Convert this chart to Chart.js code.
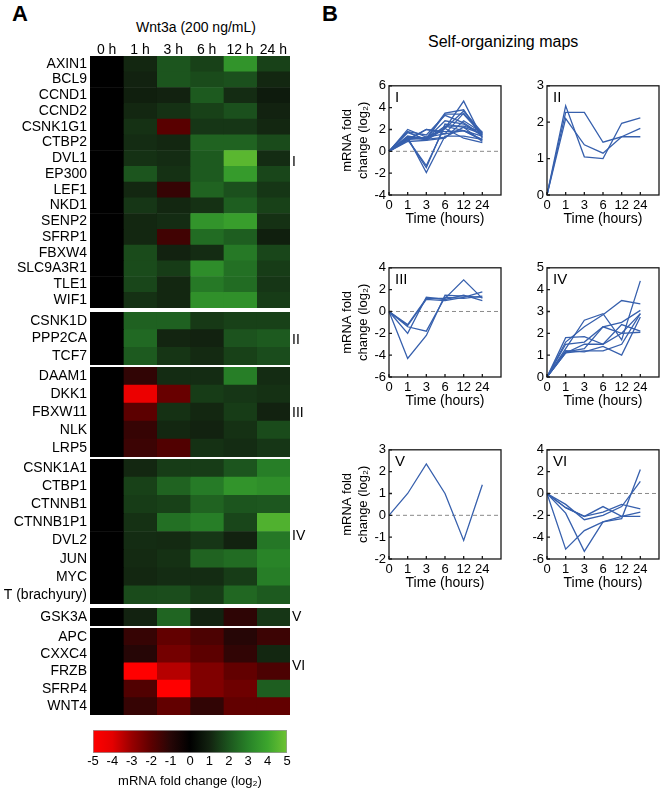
<!DOCTYPE html>
<html>
<head>
<meta charset="utf-8">
<script src="https://cdn.jsdelivr.net/npm/chart.js@4/dist/chart.umd.min.js"></script>
<style>
  body { margin: 0; background: #fff; width: 662px; height: 793px; overflow: hidden; position: relative;
         font-family: "Liberation Sans", Arial, Helvetica, sans-serif; color: #000; }
  .lbl { position: absolute; white-space: nowrap; line-height: 1; }
</style>
</head>
<body>
<script>
// time points
var hours = ['0', '1', '3', '6', '12', '24'];
var hourHeads = ['0 h', '1 h', '3 h', '6 h', '12 h', '24 h'];

// cluster I
var genesI = ['AXIN1', 'BCL9', 'CCND1', 'CCND2', 'CSNK1G1', 'CTBP2', 'DVL1', 'EP300', 'LEF1', 'NKD1',
              'SENP2', 'SFRP1', 'FBXW4', 'SLC9A3R1', 'TLE1', 'WIF1'];
var valuesI = [
    [0, 1.1, 2.0, 1.6, 3.5, 1.6],
    [0, 1.0, 2.0, 1.8, 1.9, 1.1],
    [0, 0.9, 1.0, 2.1, 1.2, 0.8],
    [0, 1.1, 1.3, 1.6, 1.9, 1.0],
    [0, 1.3, -1.95, 1.4, 1.4, 1.1],
    [0, 1.2, 1.1, 2.3, 2.3, 1.8],
    [0, 1.3, 1.2, 2.1, 4.6, 1.2],
    [0, 2.0, 1.3, 2.1, 3.7, 1.7],
    [0, 1.1, -1.3, 2.3, 1.9, 1.4],
    [0, 1.4, 1.1, 1.3, 2.2, 1.6],
    [0, 1.1, 1.2, 3.5, 3.8, 1.3],
    [0, 1.1, -1.5, 2.5, 2.2, 0.9],
    [0, 1.8, 1.0, 1.2, 2.8, 1.7],
    [0, 1.8, 1.5, 3.3, 2.6, 1.5],
    [0, 1.7, 1.1, 2.8, 2.5, 1.4],
    [0, 1.3, 1.1, 3.4, 3.4, 1.5]
];

// cluster II
var genesII = ['CSNK1D', 'PPP2CA', 'TCF7'];
var valuesII = [
    [0, 2.27, 2.27, 1.45, 1.6, 1.6],
    [0, 2.45, 1.05, 1.0, 1.97, 2.12],
    [0, 2.1, 1.38, 1.15, 1.6, 1.83]
];

// cluster III
var genesIII = ['DAAM1', 'DKK1', 'FBXW11', 'NLK', 'LRP5'];
var valuesIII = [
    [0, -1.2, 1.2, 1.2, 2.9, 1.2],
    [0, -4.3, -2.2, 1.5, 1.4, 1.3],
    [0, -2.0, 1.3, 1.1, 1.5, 1.0],
    [0, -1.3, 1.1, 1.0, 1.3, 1.8],
    [0, -1.4, -1.8, 1.3, 1.2, 1.4]
];

// cluster IV
var genesIV = ['CSNK1A1', 'CTBP1', 'CTNNB1', 'CTNNB1P1', 'DVL2', 'JUN', 'MYC', 'T (brachyury)'];
var valuesIV = [
    [0, 1.1, 1.5, 1.5, 2.0, 2.9],
    [0, 1.6, 2.3, 2.85, 3.5, 3.35],
    [0, 1.5, 1.6, 2.3, 2.0, 2.05],
    [0, 1.3, 2.6, 2.9, 1.7, 4.4],
    [0, 1.2, 1.15, 1.4, 1.0, 2.75],
    [0, 1.15, 1.3, 2.3, 2.5, 3.05],
    [0, 1.1, 1.2, 1.2, 1.5, 2.9],
    [0, 1.8, 1.85, 1.5, 2.4, 2.1]
];

// cluster V
var genesV = ['GSK3A'];
var valuesV = [
    [0, 1.0, 2.35, 1.0, -1.15, 1.4]
];

// cluster VI
var genesVI = ['APC', 'CXXC4', 'FRZB', 'SFRP4', 'WNT4'];
var valuesVI = [
    [0, -1.3, -2.1, -1.7, -1.0, -1.4],
    [0, -1.0, -2.4, -2.0, -1.2, 1.1],
    [0, -5.1, -3.4, -2.6, -2.1, -1.7],
    [0, -1.8, -5.3, -2.6, -2.3, 2.2],
    [0, -1.3, -2.1, -1.2, -2.1, -2.1]
];

var FONT = '"Liberation Sans", Arial, Helvetica, sans-serif';
var LINE = '#3760ad';

Chart.defaults.font.family = FONT;
Chart.defaults.color = '#000';
Chart.defaults.animation = false;
Chart.defaults.plugins.legend.display = false;
Chart.defaults.plugins.tooltip.enabled = false;

// colour scale: red (-5) .. black (0) .. green (+5)
var posStops = [[0, [0, 0, 0]], [1, [18, 34, 16]], [2, [28, 85, 30]], [3, [40, 130, 40]], [4, [60, 165, 45]], [5, [110, 195, 50]]];
var negStops = [[0, [0, 0, 0]], [1, [38, 6, 6]], [2, [92, 0, 0]], [3, [152, 0, 0]], [4, [228, 0, 0]], [5, [255, 0, 0]]];

function heatColor(v) {
    var s = v >= 0 ? posStops : negStops;
    var a = Math.min(Math.abs(v), 5);
    var i = 0;
    while (i < s.length - 2 && a > s[i + 1][0]) i++;
    var c0 = s[i][1], c1 = s[i + 1][1];
    var f = (a - s[i][0]) / (s[i + 1][0] - s[i][0]);
    return 'rgb(' + [0, 1, 2].map(function (k) { return Math.round(c0[k] + (c1[k] - c0[k]) * f); }).join(',') + ')';
}

function place(left, top, w, h) {
    var c = document.createElement('canvas');
    c.width = w;
    c.height = h;
    c.style.position = 'absolute';
    c.style.left = left + 'px';
    c.style.top = top + 'px';
    document.body.appendChild(c);
    return c;
}

function label(text, x, y, css, center) {
    var d = document.createElement('div');
    d.className = 'lbl';
    d.textContent = text;
    d.style.cssText += css;
    d.style.left = x + 'px';
    d.style.top = y + 'px';
    d.style.transform = center ? 'translate(-50%, -50%)' : 'translate(0, -50%)';
    document.body.appendChild(d);
}

// heatmap block for one cluster
function heatBlock(genes, vals, top, height, withHead) {
    var head = withHead ? 20 : 0;
    var cv = place(0, top - head, 300, height + head);
    return new Chart(cv, {
        type: 'bar',
        data: {
            labels: genes,
            datasets: hours.map(function (h, t) {
                return {
                    data: genes.map(function () { return [t, t + 1]; }),
                    backgroundColor: vals.map(function (row) { return heatColor(row[t]); }),
                    borderWidth: 0,
                    barPercentage: 1,
                    categoryPercentage: 1,
                    grouped: false
                };
            })
        },
        options: {
            responsive: false,
            indexAxis: 'y',
            layout: { padding: { left: 0, right: 10, top: 0, bottom: 0 } },
            scales: {
                x: {
                    type: 'linear', min: 0, max: 6, position: 'top', display: withHead,
                    grid: { display: false, drawTicks: false },
                    border: { display: false },
                    afterBuildTicks: function (s) {
                        s.ticks = hourHeads.map(function (hh, i) { return { value: i + 0.5 }; });
                    },
                    ticks: {
                        font: { size: 14 }, padding: -3, maxRotation: 0, autoSkip: false,
                        callback: function (v, i) { return hourHeads[i]; }
                    },
                    afterFit: function (s) { s.height = head; s.paddingLeft = 0; s.paddingRight = 0; }
                },
                y: {
                    grid: { display: false, drawTicks: false },
                    border: { display: false },
                    ticks: { font: { size: 14 }, padding: 3, autoSkip: false },
                    afterFit: function (s) { s.width = 90; s.paddingTop = 0; s.paddingBottom = 0; }
                }
            }
        }
    });
}

heatBlock(genesI, valuesI, 56, 252, true);
heatBlock(genesII, valuesII, 312, 53, false);
heatBlock(genesIII, valuesIII, 367, 90, false);
heatBlock(genesIV, valuesIV, 459, 145, false);
heatBlock(genesV, valuesV, 608, 18, false);
heatBlock(genesVI, valuesVI, 628, 87, false);

// colour bar
new Chart(place(80, 722, 220, 71), {
    type: 'bar',
    data: {
        labels: [''],
        datasets: [{
            data: [[-5, 5]],
            backgroundColor: function (c) {
                var a = c.chart.chartArea;
                if (!a) return '#000';
                var g = c.chart.ctx.createLinearGradient(a.left, 0, a.right, 0);
                for (var v = -5; v <= 5; v += 0.5) g.addColorStop((v + 5) / 10, heatColor(v));
                return g;
            },
            borderColor: '#9a9a9a',
            borderWidth: 1,
            borderSkipped: false,
            barPercentage: 1,
            categoryPercentage: 1
        }]
    },
    options: {
        responsive: false,
        indexAxis: 'y',
        layout: { padding: { left: 13, right: 13, top: 8, bottom: 0 } },
        scales: {
            x: {
                type: 'linear', min: -5, max: 5,
                grid: { display: false, drawTicks: false },
                border: { display: false },
                ticks: { stepSize: 1, font: { size: 13 }, padding: 1 },
                title: { display: true, text: 'mRNA fold change (log₂)', font: { size: 13 }, padding: { top: 0, bottom: 4 } },
                afterFit: function (s) { s.height = 40; }
            },
            y: { display: false }
        }
    }
});

// box, inner ticks, zero line and cluster numeral for the small line plots
var framePlugin = {
    id: 'frame',
    beforeDatasetsDraw: function (chart, args, opts) {
        if (!opts.zero) return;
        var ctx = chart.ctx, a = chart.chartArea;
        var py = chart.scales.y.getPixelForValue(0);
        ctx.save();
        ctx.strokeStyle = '#8a8a8a';
        ctx.lineWidth = 1;
        ctx.setLineDash([4, 3]);
        ctx.beginPath();
        ctx.moveTo(a.left, py);
        ctx.lineTo(a.right, py);
        ctx.stroke();
        ctx.restore();
    },
    afterDatasetsDraw: function (chart, args, opts) {
        var ctx = chart.ctx, a = chart.chartArea, x = chart.scales.x, y = chart.scales.y;
        ctx.save();
        ctx.strokeStyle = '#1a1a1a';
        ctx.lineWidth = 1.3;
        ctx.strokeRect(a.left, a.top, a.right - a.left, a.bottom - a.top);
        ctx.beginPath();
        hours.forEach(function (h, i) {
            var px = x.getPixelForValue(i);
            ctx.moveTo(px, a.bottom);
            ctx.lineTo(px, a.bottom - 3);
        });
        y.ticks.forEach(function (t) {
            var py = y.getPixelForValue(t.value);
            ctx.moveTo(a.left, py);
            ctx.lineTo(a.left + 3, py);
        });
        ctx.stroke();
        ctx.fillStyle = '#000';
        ctx.font = '15px ' + FONT;
        ctx.textBaseline = 'middle';
        ctx.fillText(opts.roman, a.left + 6, a.top + 12);
        ctx.restore();
    }
};

function clusterChart(boxLeft, boxTop, genes, vals, yMin, yMax, yStep, roman, withTitle, zero) {
    var w = 170, h = 155;
    return new Chart(place(boxLeft - 54, boxTop - 8, w, h), {
        type: 'line',
        data: {
            labels: hours.concat(['']),
            datasets: vals.map(function (v, i) {
                return { label: genes[i], data: v, borderColor: LINE, borderWidth: 1.3, pointRadius: 0, tension: 0, fill: false };
            })
        },
        options: {
            responsive: false,
            layout: { padding: { top: 8, right: w - 54 - 112, left: 0, bottom: 0 } },
            plugins: { frame: { roman: roman, zero: zero } },
            scales: {
                x: {
                    offset: false,
                    grid: { display: false, drawTicks: false },
                    border: { display: false },
                    ticks: { font: { size: 13 }, padding: 3, maxRotation: 0, autoSkip: false },
                    title: { display: true, text: 'Time (hours)', font: { size: 14 }, padding: { top: 0, bottom: 2 } },
                    afterFit: function (s) { s.height = 35; }
                },
                y: {
                    min: yMin, max: yMax,
                    grid: { display: false, drawTicks: false },
                    border: { display: false },
                    ticks: { stepSize: yStep, font: { size: 13 }, padding: 3 },
                    title: { display: withTitle, text: ['mRNA fold', 'change (log₂)'], font: { size: 13, lineHeight: 1.2 }, padding: { top: 5, bottom: 0 } },
                    afterFit: function (s) { s.width = 54; }
                }
            }
        },
        plugins: [framePlugin]
    });
}

clusterChart(389, 83, genesI, valuesI, -4, 6, 2, 'I', true, true);
clusterChart(547, 83, genesII, valuesII, 0, 3, 1, 'II', false, false);
clusterChart(389, 265, genesIII, valuesIII, -6, 4, 2, 'III', true, true);
clusterChart(547, 265, genesIV, valuesIV, 0, 5, 1, 'IV', false, false);
clusterChart(389, 447, genesV, valuesV, -2, 3, 1, 'V', true, true);
clusterChart(547, 447, genesVI, valuesVI, -6, 4, 2, 'VI', false, true);

// panel letters and titles
label('A', 12, 14, 'font-size:22px;font-weight:bold;', false);
label('B', 322, 14, 'font-size:22px;font-weight:bold;', false);
label('Wnt3a (200 ng/mL)', 196, 27, 'font-size:14px;', true);
label('Self-organizing maps', 428, 42, 'font-size:16px;', false);
label('I', 292, 161, 'font-size:14px;', false);
label('II', 292, 339, 'font-size:14px;', false);
label('III', 292, 412, 'font-size:14px;', false);
label('IV', 292, 535, 'font-size:14px;', false);
label('V', 292, 616, 'font-size:14px;', false);
label('VI', 292, 665, 'font-size:14px;', false);
</script>
</body>
</html>
